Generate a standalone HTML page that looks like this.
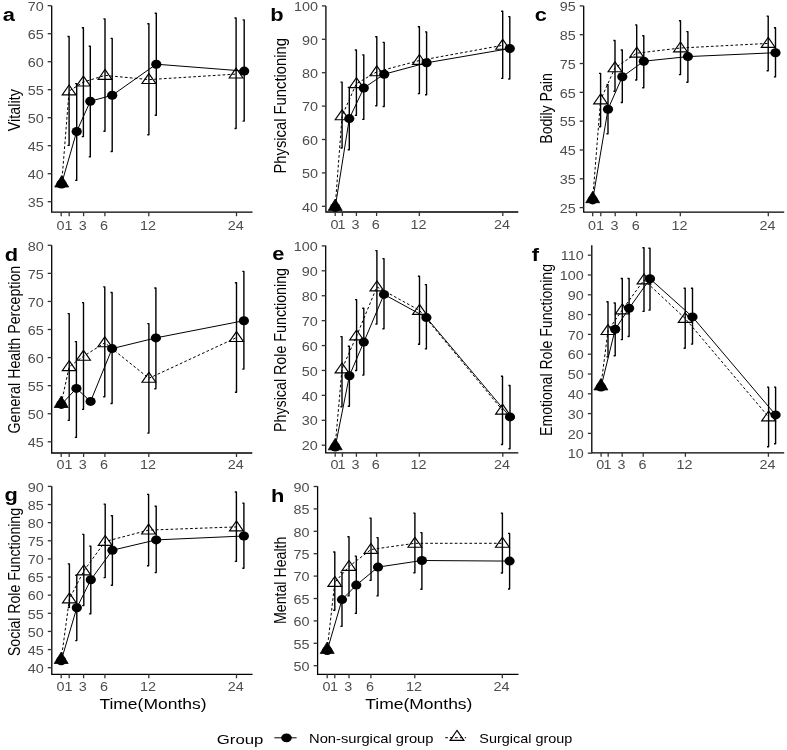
<!DOCTYPE html>
<html><head><meta charset="utf-8"><style>
html,body{margin:0;padding:0;background:#fff;}
svg{display:block;filter:blur(0.35px);}
text{font-family:"Liberation Sans",sans-serif;}
.ax{fill:none;stroke:#000;stroke-width:1.3;}
.tk{fill:none;stroke:#333;stroke-width:1.3;}
.tl{font-size:12px;fill:#4d4d4d}
.tag{font-size:19px;font-weight:bold;fill:#000;}
.ti{font-size:14.5px;fill:#000;}
.xt{font-size:14.7px;fill:#000;}
.lt{font-size:13px;fill:#000;}
.lx{font-size:12.8px;fill:#000;}
.eb{fill:none;stroke:#000;stroke-width:1.4;stroke-linejoin:round;}
.sl{fill:none;stroke:#000;stroke-width:1.0;}
.ds{fill:none;stroke:#000;stroke-width:1.0;stroke-dasharray:2.7 2.2;}
.trf{fill:#000;stroke:#000;stroke-width:0.8;stroke-linejoin:miter;}
.tri{fill:none;stroke:#000;stroke-width:1.15;stroke-linejoin:miter;}
ellipse{fill:#000;}
</style></head><body>
<svg width="787" height="750" viewBox="0 0 787 750">
<path d="M51.7 5.7V212.2H252.5" class="ax"/>
<path d="M47.7 201.7H51.7" class="tk"/>
<text class="tl" text-anchor="end" transform="translate(43.7,206.9) scale(1.2,1)">35</text>
<path d="M47.7 173.7H51.7" class="tk"/>
<text class="tl" text-anchor="end" transform="translate(43.7,178.9) scale(1.2,1)">40</text>
<path d="M47.7 145.7H51.7" class="tk"/>
<text class="tl" text-anchor="end" transform="translate(43.7,150.9) scale(1.2,1)">45</text>
<path d="M47.7 117.7H51.7" class="tk"/>
<text class="tl" text-anchor="end" transform="translate(43.7,122.9) scale(1.2,1)">50</text>
<path d="M47.7 89.7H51.7" class="tk"/>
<text class="tl" text-anchor="end" transform="translate(43.7,94.9) scale(1.2,1)">55</text>
<path d="M47.7 61.7H51.7" class="tk"/>
<text class="tl" text-anchor="end" transform="translate(43.7,66.9) scale(1.2,1)">60</text>
<path d="M47.7 33.7H51.7" class="tk"/>
<text class="tl" text-anchor="end" transform="translate(43.7,38.9) scale(1.2,1)">65</text>
<path d="M47.7 5.7H51.7" class="tk"/>
<text class="tl" text-anchor="end" transform="translate(43.7,10.9) scale(1.2,1)">70</text>
<path d="M61.2 212.2V216.2" class="tk"/>
<text class="tl" text-anchor="middle" transform="translate(60.4,229.6) scale(1.2,1)">0</text>
<path d="M69.2 212.2V216.2" class="tk"/>
<text class="tl" text-anchor="middle" transform="translate(68.4,229.6) scale(1.2,1)">1</text>
<path d="M83.6 212.2V216.2" class="tk"/>
<text class="tl" text-anchor="middle" transform="translate(82.8,229.6) scale(1.2,1)">3</text>
<path d="M104.9 212.2V216.2" class="tk"/>
<text class="tl" text-anchor="middle" transform="translate(104.1,229.6) scale(1.2,1)">6</text>
<path d="M148.8 212.2V216.2" class="tk"/>
<text class="tl" text-anchor="middle" transform="translate(148,229.6) scale(1.2,1)">12</text>
<path d="M236.5 212.2V216.2" class="tk"/>
<text class="tl" text-anchor="middle" transform="translate(235.7,229.6) scale(1.2,1)">24</text>
<text class="tag" text-anchor="middle" transform="translate(8.8,21) scale(1.15,1)">a</text>
<text class="ti" text-anchor="middle" textLength="42" lengthAdjust="spacingAndGlyphs" transform="translate(19.7,110.2) scale(1.18,1) rotate(-90)">Vitality</text>
<path d="M67.5 36.5H69.1V145.4H67.5" class="eb"/>
<path d="M81.8 27.7H83.4V136.6H81.8" class="eb"/>
<path d="M103.4 18.9H105V131.3H103.4" class="eb"/>
<path d="M147.3 23.8H148.9V134.7H147.3" class="eb"/>
<path d="M234.5 18H236.1V128.5H234.5" class="eb"/>
<path d="M75.1 83.6H76.7V180.4H75.1" class="eb"/>
<path d="M88.7 46.3H90.3V156.9H88.7" class="eb"/>
<path d="M110.6 38.4H112.2V151.5H110.6" class="eb"/>
<path d="M154.7 13.2H156.3V115.3H154.7" class="eb"/>
<path d="M242.6 19.9H244.2V121.1H242.6" class="eb"/>
<path d="M61.7 183.2 L69.1 91 L83.4 82.1 L105 75.4 L148.9 79.6 L236.1 74.1" class="ds"/>
<path d="M61.5 184 L76.7 131.5 L90.3 101.2 L112.2 95.3 L156.3 64.2 L244.2 71.1" class="sl"/>
<ellipse cx="61.5" cy="184" rx="5.1" ry="4.5"/>
<ellipse cx="76.7" cy="131.5" rx="5.1" ry="4.5"/>
<ellipse cx="90.3" cy="101.2" rx="5.1" ry="4.5"/>
<ellipse cx="112.2" cy="95.3" rx="5.1" ry="4.5"/>
<ellipse cx="156.3" cy="64.2" rx="5.1" ry="4.5"/>
<ellipse cx="244.2" cy="71.1" rx="5.1" ry="4.5"/>
<path d="M61.7 175.6L68.7 187H54.7Z" class="trf"/>
<path d="M69.1 85L76 94.9H62.2Z" class="tri"/>
<path d="M83.4 76.1L90.3 86H76.5Z" class="tri"/>
<path d="M105 69.4L111.9 79.3H98.1Z" class="tri"/>
<path d="M148.9 73.6L155.8 83.5H142Z" class="tri"/>
<path d="M236.1 68.1L243 78H229.2Z" class="tri"/>
<path d="M325.9 5.9V212H518.3" class="ax"/>
<path d="M321.9 206.3H325.9" class="tk"/>
<text class="tl" text-anchor="end" transform="translate(317.9,211.5) scale(1.2,1)">40</text>
<path d="M321.9 172.9H325.9" class="tk"/>
<text class="tl" text-anchor="end" transform="translate(317.9,178.1) scale(1.2,1)">50</text>
<path d="M321.9 139.5H325.9" class="tk"/>
<text class="tl" text-anchor="end" transform="translate(317.9,144.7) scale(1.2,1)">60</text>
<path d="M321.9 106.1H325.9" class="tk"/>
<text class="tl" text-anchor="end" transform="translate(317.9,111.3) scale(1.2,1)">70</text>
<path d="M321.9 72.7H325.9" class="tk"/>
<text class="tl" text-anchor="end" transform="translate(317.9,77.9) scale(1.2,1)">80</text>
<path d="M321.9 39.3H325.9" class="tk"/>
<text class="tl" text-anchor="end" transform="translate(317.9,44.5) scale(1.2,1)">90</text>
<path d="M321.9 5.9H325.9" class="tk"/>
<text class="tl" text-anchor="end" transform="translate(317.9,11.1) scale(1.2,1)">100</text>
<path d="M335.2 212V216" class="tk"/>
<text class="tl" text-anchor="middle" transform="translate(334.4,229.4) scale(1.2,1)">0</text>
<path d="M342.4 212V216" class="tk"/>
<text class="tl" text-anchor="middle" transform="translate(341.6,229.4) scale(1.2,1)">1</text>
<path d="M356.4 212V216" class="tk"/>
<text class="tl" text-anchor="middle" transform="translate(355.6,229.4) scale(1.2,1)">3</text>
<path d="M376.6 212V216" class="tk"/>
<text class="tl" text-anchor="middle" transform="translate(375.8,229.4) scale(1.2,1)">6</text>
<path d="M419.3 212V216" class="tk"/>
<text class="tl" text-anchor="middle" transform="translate(418.5,229.4) scale(1.2,1)">12</text>
<path d="M502.8 212V216" class="tk"/>
<text class="tl" text-anchor="middle" transform="translate(502,229.4) scale(1.2,1)">24</text>
<text class="tag" text-anchor="middle" transform="translate(276.8,20.5) scale(1.15,1)">b</text>
<text class="ti" text-anchor="middle" textLength="135.6" lengthAdjust="spacingAndGlyphs" transform="translate(285.6,105.8) scale(1.18,1) rotate(-90)">Physical Functioning</text>
<path d="M340.5 82.1H342.1V148H340.5" class="eb"/>
<path d="M354.8 50H356.4V115.4H354.8" class="eb"/>
<path d="M375.2 36.7H376.8V105.7H375.2" class="eb"/>
<path d="M417.8 26.8H419.4V93.6H417.8" class="eb"/>
<path d="M501.1 11.3H502.7V78.4H501.1" class="eb"/>
<path d="M347.7 87.4H349.3V149.8H347.7" class="eb"/>
<path d="M362.2 54.9H363.8V119.4H362.2" class="eb"/>
<path d="M382.6 42.4H384.2V106.5H382.6" class="eb"/>
<path d="M425 31.9H426.6V94.7H425" class="eb"/>
<path d="M508.2 16.6H509.8V79H508.2" class="eb"/>
<path d="M335.2 206.6 L342.1 115.8 L356.4 83.7 L376.8 71.8 L419.4 60.5 L502.7 45.3" class="ds"/>
<path d="M335.2 207.4 L349.3 118.6 L363.8 88 L384.2 74.2 L426.6 62.8 L509.8 48.5" class="sl"/>
<ellipse cx="335.2" cy="207.4" rx="5.1" ry="4.5"/>
<ellipse cx="349.3" cy="118.6" rx="5.1" ry="4.5"/>
<ellipse cx="363.8" cy="88" rx="5.1" ry="4.5"/>
<ellipse cx="384.2" cy="74.2" rx="5.1" ry="4.5"/>
<ellipse cx="426.6" cy="62.8" rx="5.1" ry="4.5"/>
<ellipse cx="509.8" cy="48.5" rx="5.1" ry="4.5"/>
<path d="M335.2 199L342.2 210.4H328.2Z" class="trf"/>
<path d="M342.1 109.8L349 119.7H335.2Z" class="tri"/>
<path d="M356.4 77.7L363.3 87.6H349.5Z" class="tri"/>
<path d="M376.8 65.8L383.7 75.7H369.9Z" class="tri"/>
<path d="M419.4 54.5L426.3 64.4H412.5Z" class="tri"/>
<path d="M502.7 39.3L509.6 49.2H495.8Z" class="tri"/>
<path d="M583.7 5.9V212.2H784.2" class="ax"/>
<path d="M579.7 207.6H583.7" class="tk"/>
<text class="tl" text-anchor="end" transform="translate(575.7,212.8) scale(1.2,1)">25</text>
<path d="M579.7 178.79H583.7" class="tk"/>
<text class="tl" text-anchor="end" transform="translate(575.7,183.99) scale(1.2,1)">35</text>
<path d="M579.7 149.97H583.7" class="tk"/>
<text class="tl" text-anchor="end" transform="translate(575.7,155.17) scale(1.2,1)">45</text>
<path d="M579.7 121.16H583.7" class="tk"/>
<text class="tl" text-anchor="end" transform="translate(575.7,126.36) scale(1.2,1)">55</text>
<path d="M579.7 92.34H583.7" class="tk"/>
<text class="tl" text-anchor="end" transform="translate(575.7,97.54) scale(1.2,1)">65</text>
<path d="M579.7 63.53H583.7" class="tk"/>
<text class="tl" text-anchor="end" transform="translate(575.7,68.73) scale(1.2,1)">75</text>
<path d="M579.7 34.71H583.7" class="tk"/>
<text class="tl" text-anchor="end" transform="translate(575.7,39.91) scale(1.2,1)">85</text>
<path d="M579.7 5.9H583.7" class="tk"/>
<text class="tl" text-anchor="end" transform="translate(575.7,11.1) scale(1.2,1)">95</text>
<path d="M592.7 212.2V216.2" class="tk"/>
<text class="tl" text-anchor="middle" transform="translate(591.9,229.6) scale(1.2,1)">0</text>
<path d="M600.8 212.2V216.2" class="tk"/>
<text class="tl" text-anchor="middle" transform="translate(600,229.6) scale(1.2,1)">1</text>
<path d="M615.2 212.2V216.2" class="tk"/>
<text class="tl" text-anchor="middle" transform="translate(614.4,229.6) scale(1.2,1)">3</text>
<path d="M636.5 212.2V216.2" class="tk"/>
<text class="tl" text-anchor="middle" transform="translate(635.7,229.6) scale(1.2,1)">6</text>
<path d="M680.3 212.2V216.2" class="tk"/>
<text class="tl" text-anchor="middle" transform="translate(679.5,229.6) scale(1.2,1)">12</text>
<path d="M768.3 212.2V216.2" class="tk"/>
<text class="tl" text-anchor="middle" transform="translate(767.5,229.6) scale(1.2,1)">24</text>
<text class="tag" text-anchor="middle" transform="translate(540.9,21) scale(1.15,1)">c</text>
<text class="ti" text-anchor="middle" textLength="70.4" lengthAdjust="spacingAndGlyphs" transform="translate(552,108.5) scale(1.18,1) rotate(-90)">Bodily Pain</text>
<path d="M599 73.4H600.6V126.8H599" class="eb"/>
<path d="M613.4 40.5H615V91.3H613.4" class="eb"/>
<path d="M635.1 24.9H636.7V80H635.1" class="eb"/>
<path d="M678.9 20.8H680.5V74.6H678.9" class="eb"/>
<path d="M766.6 16.1H768.2V70.7H766.6" class="eb"/>
<path d="M606.4 84.7H608V133.7H606.4" class="eb"/>
<path d="M620.7 50H622.3V102.5H620.7" class="eb"/>
<path d="M642.2 35.8H643.8V87.8H642.2" class="eb"/>
<path d="M686.3 31.6H687.9V82.3H686.3" class="eb"/>
<path d="M773.9 27.7H775.5V76.9H773.9" class="eb"/>
<path d="M592.7 198.9 L600.6 99.9 L615 67.8 L636.7 53.2 L680.5 48 L768.2 43.4" class="ds"/>
<path d="M592.7 199.9 L608 109.2 L622.3 76.8 L643.8 61.2 L687.9 56.6 L775.5 52.7" class="sl"/>
<ellipse cx="592.7" cy="199.9" rx="5.1" ry="4.5"/>
<ellipse cx="608" cy="109.2" rx="5.1" ry="4.5"/>
<ellipse cx="622.3" cy="76.8" rx="5.1" ry="4.5"/>
<ellipse cx="643.8" cy="61.2" rx="5.1" ry="4.5"/>
<ellipse cx="687.9" cy="56.6" rx="5.1" ry="4.5"/>
<ellipse cx="775.5" cy="52.7" rx="5.1" ry="4.5"/>
<path d="M592.7 191.3L599.7 202.7H585.7Z" class="trf"/>
<path d="M600.6 93.9L607.5 103.8H593.7Z" class="tri"/>
<path d="M615 61.8L621.9 71.7H608.1Z" class="tri"/>
<path d="M636.7 47.2L643.6 57.1H629.8Z" class="tri"/>
<path d="M680.5 42L687.4 51.9H673.6Z" class="tri"/>
<path d="M768.2 37.4L775.1 47.3H761.3Z" class="tri"/>
<path d="M51.7 245.2V453H252.3" class="ax"/>
<path d="M47.7 441.8H51.7" class="tk"/>
<text class="tl" text-anchor="end" transform="translate(43.7,447) scale(1.2,1)">45</text>
<path d="M47.7 413.73H51.7" class="tk"/>
<text class="tl" text-anchor="end" transform="translate(43.7,418.93) scale(1.2,1)">50</text>
<path d="M47.7 385.66H51.7" class="tk"/>
<text class="tl" text-anchor="end" transform="translate(43.7,390.86) scale(1.2,1)">55</text>
<path d="M47.7 357.59H51.7" class="tk"/>
<text class="tl" text-anchor="end" transform="translate(43.7,362.79) scale(1.2,1)">60</text>
<path d="M47.7 329.51H51.7" class="tk"/>
<text class="tl" text-anchor="end" transform="translate(43.7,334.71) scale(1.2,1)">65</text>
<path d="M47.7 301.44H51.7" class="tk"/>
<text class="tl" text-anchor="end" transform="translate(43.7,306.64) scale(1.2,1)">70</text>
<path d="M47.7 273.37H51.7" class="tk"/>
<text class="tl" text-anchor="end" transform="translate(43.7,278.57) scale(1.2,1)">75</text>
<path d="M47.7 245.3H51.7" class="tk"/>
<text class="tl" text-anchor="end" transform="translate(43.7,250.5) scale(1.2,1)">80</text>
<path d="M61.2 453V457" class="tk"/>
<text class="tl" text-anchor="middle" transform="translate(60.4,468.9) scale(1.2,1)">0</text>
<path d="M69.2 453V457" class="tk"/>
<text class="tl" text-anchor="middle" transform="translate(68.4,468.9) scale(1.2,1)">1</text>
<path d="M83.6 453V457" class="tk"/>
<text class="tl" text-anchor="middle" transform="translate(82.8,468.9) scale(1.2,1)">3</text>
<path d="M104.9 453V457" class="tk"/>
<text class="tl" text-anchor="middle" transform="translate(104.1,468.9) scale(1.2,1)">6</text>
<path d="M148.8 453V457" class="tk"/>
<text class="tl" text-anchor="middle" transform="translate(148,468.9) scale(1.2,1)">12</text>
<path d="M236.5 453V457" class="tk"/>
<text class="tl" text-anchor="middle" transform="translate(235.7,468.9) scale(1.2,1)">24</text>
<text class="tag" text-anchor="middle" transform="translate(11.4,260.5) scale(1.15,1)">d</text>
<text class="ti" text-anchor="middle" textLength="167.7" lengthAdjust="spacingAndGlyphs" transform="translate(20.2,349.6) scale(1.18,1) rotate(-90)">General Health Perception</text>
<path d="M67.6 313.6H69.2V420.4H67.6" class="eb"/>
<path d="M81.9 302.6H83.5V409.4H81.9" class="eb"/>
<path d="M103.2 286.9H104.8V396.7H103.2" class="eb"/>
<path d="M147.3 323.6H148.9V433.1H147.3" class="eb"/>
<path d="M234.9 282.8H236.5V392.2H234.9" class="eb"/>
<path d="M74.8 341.6H76.4V437.4H74.8" class="eb"/>
<path d="M110.5 292.5H112.1V403.5H110.5" class="eb"/>
<path d="M154.3 288H155.9V388.8H154.3" class="eb"/>
<path d="M242.3 271.4H243.9V369.1H242.3" class="eb"/>
<path d="M61.2 403.7 L69.2 366.7 L83.5 356.3 L104.8 342.8 L148.9 378.3 L236.5 337.6" class="ds"/>
<path d="M61.4 404.4 L76.4 388.4 L90.6 401.4 L112.1 348.6 L155.9 337.9 L243.9 320.7" class="sl"/>
<ellipse cx="61.4" cy="404.4" rx="5.1" ry="4.5"/>
<ellipse cx="76.4" cy="388.4" rx="5.1" ry="4.5"/>
<ellipse cx="90.6" cy="401.4" rx="5.1" ry="4.5"/>
<ellipse cx="112.1" cy="348.6" rx="5.1" ry="4.5"/>
<ellipse cx="155.9" cy="337.9" rx="5.1" ry="4.5"/>
<ellipse cx="243.9" cy="320.7" rx="5.1" ry="4.5"/>
<path d="M61.2 396.1L68.2 407.5H54.2Z" class="trf"/>
<path d="M69.2 360.7L76.1 370.6H62.3Z" class="tri"/>
<path d="M83.5 350.3L90.4 360.2H76.6Z" class="tri"/>
<path d="M104.8 336.8L111.7 346.7H97.9Z" class="tri"/>
<path d="M148.9 372.3L155.8 382.2H142Z" class="tri"/>
<path d="M236.5 331.6L243.4 341.5H229.6Z" class="tri"/>
<path d="M325.7 245.5V452.8H518.3" class="ax"/>
<path d="M321.7 445.2H325.7" class="tk"/>
<text class="tl" text-anchor="end" transform="translate(317.7,450.4) scale(1.2,1)">20</text>
<path d="M321.7 420.29H325.7" class="tk"/>
<text class="tl" text-anchor="end" transform="translate(317.7,425.49) scale(1.2,1)">30</text>
<path d="M321.7 395.38H325.7" class="tk"/>
<text class="tl" text-anchor="end" transform="translate(317.7,400.57) scale(1.2,1)">40</text>
<path d="M321.7 370.46H325.7" class="tk"/>
<text class="tl" text-anchor="end" transform="translate(317.7,375.66) scale(1.2,1)">50</text>
<path d="M321.7 345.55H325.7" class="tk"/>
<text class="tl" text-anchor="end" transform="translate(317.7,350.75) scale(1.2,1)">60</text>
<path d="M321.7 320.64H325.7" class="tk"/>
<text class="tl" text-anchor="end" transform="translate(317.7,325.84) scale(1.2,1)">70</text>
<path d="M321.7 295.73H325.7" class="tk"/>
<text class="tl" text-anchor="end" transform="translate(317.7,300.93) scale(1.2,1)">80</text>
<path d="M321.7 270.81H325.7" class="tk"/>
<text class="tl" text-anchor="end" transform="translate(317.7,276.01) scale(1.2,1)">90</text>
<path d="M321.7 245.9H325.7" class="tk"/>
<text class="tl" text-anchor="end" transform="translate(317.7,251.1) scale(1.2,1)">100</text>
<path d="M335.2 452.8V456.8" class="tk"/>
<text class="tl" text-anchor="middle" transform="translate(334.4,468.7) scale(1.2,1)">0</text>
<path d="M342.4 452.8V456.8" class="tk"/>
<text class="tl" text-anchor="middle" transform="translate(341.6,468.7) scale(1.2,1)">1</text>
<path d="M356.4 452.8V456.8" class="tk"/>
<text class="tl" text-anchor="middle" transform="translate(355.6,468.7) scale(1.2,1)">3</text>
<path d="M376.6 452.8V456.8" class="tk"/>
<text class="tl" text-anchor="middle" transform="translate(375.8,468.7) scale(1.2,1)">6</text>
<path d="M419.3 452.8V456.8" class="tk"/>
<text class="tl" text-anchor="middle" transform="translate(418.5,468.7) scale(1.2,1)">12</text>
<path d="M502.8 452.8V456.8" class="tk"/>
<text class="tl" text-anchor="middle" transform="translate(502,468.7) scale(1.2,1)">24</text>
<text class="tag" text-anchor="middle" transform="translate(278.2,260) scale(1.15,1)">e</text>
<text class="ti" text-anchor="middle" textLength="164.1" lengthAdjust="spacingAndGlyphs" transform="translate(285.7,350) scale(1.18,1) rotate(-90)">Physical Role Functioning</text>
<path d="M340.4 336.6H342V406.8H340.4" class="eb"/>
<path d="M355 299.6H356.6V370.5H355" class="eb"/>
<path d="M375.3 250.6H376.9V324.1H375.3" class="eb"/>
<path d="M417.9 276.3H419.5V344.2H417.9" class="eb"/>
<path d="M500.9 376.3H502.5V444.5H500.9" class="eb"/>
<path d="M347.8 346.3H349.4V406.3H347.8" class="eb"/>
<path d="M362.2 308.3H363.8V375.1H362.2" class="eb"/>
<path d="M382.4 258.6H384V328.7H382.4" class="eb"/>
<path d="M424.8 284.6H426.4V348.9H424.8" class="eb"/>
<path d="M508.4 385.5H510V448.7H508.4" class="eb"/>
<path d="M335.2 446 L342 368.9 L356.6 336 L376.9 286.9 L419.5 310.4 L502.5 410.2" class="ds"/>
<path d="M335.2 447 L349.4 375.7 L363.8 342.1 L384 294.4 L426.4 317.6 L510 416.9" class="sl"/>
<ellipse cx="335.2" cy="447" rx="5.1" ry="4.5"/>
<ellipse cx="349.4" cy="375.7" rx="5.1" ry="4.5"/>
<ellipse cx="363.8" cy="342.1" rx="5.1" ry="4.5"/>
<ellipse cx="384" cy="294.4" rx="5.1" ry="4.5"/>
<ellipse cx="426.4" cy="317.6" rx="5.1" ry="4.5"/>
<ellipse cx="510" cy="416.9" rx="5.1" ry="4.5"/>
<path d="M335.2 438.4L342.2 449.8H328.2Z" class="trf"/>
<path d="M342 362.9L348.9 372.8H335.1Z" class="tri"/>
<path d="M356.6 330L363.5 339.9H349.7Z" class="tri"/>
<path d="M376.9 280.9L383.8 290.8H370Z" class="tri"/>
<path d="M419.5 304.4L426.4 314.3H412.6Z" class="tri"/>
<path d="M502.5 404.2L509.4 414.1H495.6Z" class="tri"/>
<path d="M591.8 245.3V452.8H784.2" class="ax"/>
<path d="M587.8 453.2H591.8" class="tk"/>
<text class="tl" text-anchor="end" transform="translate(583.8,458.4) scale(1.2,1)">10</text>
<path d="M587.8 433.4H591.8" class="tk"/>
<text class="tl" text-anchor="end" transform="translate(583.8,438.6) scale(1.2,1)">20</text>
<path d="M587.8 413.6H591.8" class="tk"/>
<text class="tl" text-anchor="end" transform="translate(583.8,418.8) scale(1.2,1)">30</text>
<path d="M587.8 393.8H591.8" class="tk"/>
<text class="tl" text-anchor="end" transform="translate(583.8,399) scale(1.2,1)">40</text>
<path d="M587.8 374H591.8" class="tk"/>
<text class="tl" text-anchor="end" transform="translate(583.8,379.2) scale(1.2,1)">50</text>
<path d="M587.8 354.2H591.8" class="tk"/>
<text class="tl" text-anchor="end" transform="translate(583.8,359.4) scale(1.2,1)">60</text>
<path d="M587.8 334.4H591.8" class="tk"/>
<text class="tl" text-anchor="end" transform="translate(583.8,339.6) scale(1.2,1)">70</text>
<path d="M587.8 314.6H591.8" class="tk"/>
<text class="tl" text-anchor="end" transform="translate(583.8,319.8) scale(1.2,1)">80</text>
<path d="M587.8 294.8H591.8" class="tk"/>
<text class="tl" text-anchor="end" transform="translate(583.8,300) scale(1.2,1)">90</text>
<path d="M587.8 275H591.8" class="tk"/>
<text class="tl" text-anchor="end" transform="translate(583.8,280.2) scale(1.2,1)">100</text>
<path d="M587.8 255.2H591.8" class="tk"/>
<text class="tl" text-anchor="end" transform="translate(583.8,260.4) scale(1.2,1)">110</text>
<path d="M601.1 452.8V456.8" class="tk"/>
<text class="tl" text-anchor="middle" transform="translate(600.3,468.7) scale(1.2,1)">0</text>
<path d="M608.2 452.8V456.8" class="tk"/>
<text class="tl" text-anchor="middle" transform="translate(607.4,468.7) scale(1.2,1)">1</text>
<path d="M622.2 452.8V456.8" class="tk"/>
<text class="tl" text-anchor="middle" transform="translate(621.4,468.7) scale(1.2,1)">3</text>
<path d="M643.2 452.8V456.8" class="tk"/>
<text class="tl" text-anchor="middle" transform="translate(642.4,468.7) scale(1.2,1)">6</text>
<path d="M685.4 452.8V456.8" class="tk"/>
<text class="tl" text-anchor="middle" transform="translate(684.6,468.7) scale(1.2,1)">12</text>
<path d="M768.4 452.8V456.8" class="tk"/>
<text class="tl" text-anchor="middle" transform="translate(767.6,468.7) scale(1.2,1)">24</text>
<text class="tag" text-anchor="middle" transform="translate(535.4,261) scale(1.15,1)">f</text>
<text class="ti" text-anchor="middle" textLength="171.9" lengthAdjust="spacingAndGlyphs" transform="translate(551.7,350) scale(1.18,1) rotate(-90)">Emotional Role Functioning</text>
<path d="M606.4 301.8H608V356.9H606.4" class="eb"/>
<path d="M620.7 278.5H622.3V339.6H620.7" class="eb"/>
<path d="M642.4 247.8H644V311.4H642.4" class="eb"/>
<path d="M683.6 288.3H685.2V348.2H683.6" class="eb"/>
<path d="M767 387.1H768.6V446.7H767" class="eb"/>
<path d="M613.6 303H615.2V355.7H613.6" class="eb"/>
<path d="M627.5 278.5H629.1V336.5H627.5" class="eb"/>
<path d="M648.4 248.3H650V310.1H648.4" class="eb"/>
<path d="M690.9 288.3H692.5V344.1H690.9" class="eb"/>
<path d="M774 387.1H775.6V443.7H774" class="eb"/>
<path d="M600.9 386.1 L608 330.6 L622.3 309.9 L644 279.9 L685.2 318.5 L768.6 416.9" class="ds"/>
<path d="M601 387 L615.2 329.2 L629.1 308.3 L650 278.8 L692.5 316.9 L775.6 414.9" class="sl"/>
<ellipse cx="601" cy="387" rx="5.1" ry="4.5"/>
<ellipse cx="615.2" cy="329.2" rx="5.1" ry="4.5"/>
<ellipse cx="629.1" cy="308.3" rx="5.1" ry="4.5"/>
<ellipse cx="650" cy="278.8" rx="5.1" ry="4.5"/>
<ellipse cx="692.5" cy="316.9" rx="5.1" ry="4.5"/>
<ellipse cx="775.6" cy="414.9" rx="5.1" ry="4.5"/>
<path d="M600.9 378.5L607.9 389.9H593.9Z" class="trf"/>
<path d="M608 324.6L614.9 334.5H601.1Z" class="tri"/>
<path d="M622.3 303.9L629.2 313.8H615.4Z" class="tri"/>
<path d="M644 273.9L650.9 283.8H637.1Z" class="tri"/>
<path d="M685.2 312.5L692.1 322.4H678.3Z" class="tri"/>
<path d="M768.6 410.9L775.5 420.8H761.7Z" class="tri"/>
<path d="M51.8 486.2V674.3H252.5" class="ax"/>
<path d="M47.8 667.7H51.8" class="tk"/>
<text class="tl" text-anchor="end" transform="translate(43.8,672.9) scale(1.2,1)">40</text>
<path d="M47.8 649.57H51.8" class="tk"/>
<text class="tl" text-anchor="end" transform="translate(43.8,654.77) scale(1.2,1)">45</text>
<path d="M47.8 631.44H51.8" class="tk"/>
<text class="tl" text-anchor="end" transform="translate(43.8,636.64) scale(1.2,1)">50</text>
<path d="M47.8 613.31H51.8" class="tk"/>
<text class="tl" text-anchor="end" transform="translate(43.8,618.51) scale(1.2,1)">55</text>
<path d="M47.8 595.18H51.8" class="tk"/>
<text class="tl" text-anchor="end" transform="translate(43.8,600.38) scale(1.2,1)">60</text>
<path d="M47.8 577.05H51.8" class="tk"/>
<text class="tl" text-anchor="end" transform="translate(43.8,582.25) scale(1.2,1)">65</text>
<path d="M47.8 558.92H51.8" class="tk"/>
<text class="tl" text-anchor="end" transform="translate(43.8,564.12) scale(1.2,1)">70</text>
<path d="M47.8 540.79H51.8" class="tk"/>
<text class="tl" text-anchor="end" transform="translate(43.8,545.99) scale(1.2,1)">75</text>
<path d="M47.8 522.66H51.8" class="tk"/>
<text class="tl" text-anchor="end" transform="translate(43.8,527.86) scale(1.2,1)">80</text>
<path d="M47.8 504.53H51.8" class="tk"/>
<text class="tl" text-anchor="end" transform="translate(43.8,509.73) scale(1.2,1)">85</text>
<path d="M47.8 486.4H51.8" class="tk"/>
<text class="tl" text-anchor="end" transform="translate(43.8,491.6) scale(1.2,1)">90</text>
<path d="M61.2 674.3V678.3" class="tk"/>
<text class="tl" text-anchor="middle" transform="translate(60.4,691.1) scale(1.2,1)">0</text>
<path d="M69.2 674.3V678.3" class="tk"/>
<text class="tl" text-anchor="middle" transform="translate(68.4,691.1) scale(1.2,1)">1</text>
<path d="M83.6 674.3V678.3" class="tk"/>
<text class="tl" text-anchor="middle" transform="translate(82.8,691.1) scale(1.2,1)">3</text>
<path d="M104.9 674.3V678.3" class="tk"/>
<text class="tl" text-anchor="middle" transform="translate(104.1,691.1) scale(1.2,1)">6</text>
<path d="M148.8 674.3V678.3" class="tk"/>
<text class="tl" text-anchor="middle" transform="translate(148,691.1) scale(1.2,1)">12</text>
<path d="M236.5 674.3V678.3" class="tk"/>
<text class="tl" text-anchor="middle" transform="translate(235.7,691.1) scale(1.2,1)">24</text>
<text class="tag" text-anchor="middle" transform="translate(11.2,501.4) scale(1.15,1)">g</text>
<text class="ti" text-anchor="middle" textLength="148.1" lengthAdjust="spacingAndGlyphs" transform="translate(19.9,582) scale(1.18,1) rotate(-90)">Social Role Functioning</text>
<path d="M67.8 563.9H69.4V607.4H67.8" class="eb"/>
<path d="M82.2 534.4H83.8V605.6H82.2" class="eb"/>
<path d="M103.6 504.1H105.2V577.6H103.6" class="eb"/>
<path d="M147 494.4H148.6V565.7H147" class="eb"/>
<path d="M234.8 492H236.4V561.4H234.8" class="eb"/>
<path d="M75.2 575.3H76.8V640.6H75.2" class="eb"/>
<path d="M89.2 546.1H90.8V613.7H89.2" class="eb"/>
<path d="M110.8 515.8H112.4V585.3H110.8" class="eb"/>
<path d="M154.6 506.2H156.2V572.6H154.6" class="eb"/>
<path d="M242.3 503.1H243.9V568.3H242.3" class="eb"/>
<path d="M61.2 659.7 L69.4 598.9 L83.8 570.9 L105.2 541.5 L148.6 530.1 L236.4 526.9" class="ds"/>
<path d="M61.2 660.7 L76.8 607.8 L90.8 579.8 L112.4 550.2 L156.2 539.9 L243.9 536" class="sl"/>
<ellipse cx="61.2" cy="660.7" rx="5.1" ry="4.5"/>
<ellipse cx="76.8" cy="607.8" rx="5.1" ry="4.5"/>
<ellipse cx="90.8" cy="579.8" rx="5.1" ry="4.5"/>
<ellipse cx="112.4" cy="550.2" rx="5.1" ry="4.5"/>
<ellipse cx="156.2" cy="539.9" rx="5.1" ry="4.5"/>
<ellipse cx="243.9" cy="536" rx="5.1" ry="4.5"/>
<path d="M61.2 652.1L68.2 663.5H54.2Z" class="trf"/>
<path d="M69.4 592.9L76.3 602.8H62.5Z" class="tri"/>
<path d="M83.8 564.9L90.7 574.8H76.9Z" class="tri"/>
<path d="M105.2 535.5L112.1 545.4H98.3Z" class="tri"/>
<path d="M148.6 524.1L155.5 534H141.7Z" class="tri"/>
<path d="M236.4 520.9L243.3 530.8H229.5Z" class="tri"/>
<text class="xt" text-anchor="middle" transform="translate(152.95,709) scale(1.19,1)">Time(Months)</text>
<path d="M317.6 486.3V674.3H518.5" class="ax"/>
<path d="M313.6 665.7H317.6" class="tk"/>
<text class="tl" text-anchor="end" transform="translate(309.6,670.9) scale(1.2,1)">50</text>
<path d="M313.6 643.3H317.6" class="tk"/>
<text class="tl" text-anchor="end" transform="translate(309.6,648.5) scale(1.2,1)">55</text>
<path d="M313.6 620.9H317.6" class="tk"/>
<text class="tl" text-anchor="end" transform="translate(309.6,626.1) scale(1.2,1)">60</text>
<path d="M313.6 598.5H317.6" class="tk"/>
<text class="tl" text-anchor="end" transform="translate(309.6,603.7) scale(1.2,1)">65</text>
<path d="M313.6 576.1H317.6" class="tk"/>
<text class="tl" text-anchor="end" transform="translate(309.6,581.3) scale(1.2,1)">70</text>
<path d="M313.6 553.7H317.6" class="tk"/>
<text class="tl" text-anchor="end" transform="translate(309.6,558.9) scale(1.2,1)">75</text>
<path d="M313.6 531.3H317.6" class="tk"/>
<text class="tl" text-anchor="end" transform="translate(309.6,536.5) scale(1.2,1)">80</text>
<path d="M313.6 508.9H317.6" class="tk"/>
<text class="tl" text-anchor="end" transform="translate(309.6,514.1) scale(1.2,1)">85</text>
<path d="M313.6 486.5H317.6" class="tk"/>
<text class="tl" text-anchor="end" transform="translate(309.6,491.7) scale(1.2,1)">90</text>
<path d="M327.2 674.3V678.3" class="tk"/>
<text class="tl" text-anchor="middle" transform="translate(326.4,691.1) scale(1.2,1)">0</text>
<path d="M334.8 674.3V678.3" class="tk"/>
<text class="tl" text-anchor="middle" transform="translate(334,691.1) scale(1.2,1)">1</text>
<path d="M349 674.3V678.3" class="tk"/>
<text class="tl" text-anchor="middle" transform="translate(348.2,691.1) scale(1.2,1)">3</text>
<path d="M370.9 674.3V678.3" class="tk"/>
<text class="tl" text-anchor="middle" transform="translate(370.1,691.1) scale(1.2,1)">6</text>
<path d="M414.8 674.3V678.3" class="tk"/>
<text class="tl" text-anchor="middle" transform="translate(414,691.1) scale(1.2,1)">12</text>
<path d="M502.3 674.3V678.3" class="tk"/>
<text class="tl" text-anchor="middle" transform="translate(501.5,691.1) scale(1.2,1)">24</text>
<text class="tag" text-anchor="middle" transform="translate(277.7,501.9) scale(1.15,1)">h</text>
<text class="ti" text-anchor="middle" textLength="87.5" lengthAdjust="spacingAndGlyphs" transform="translate(285.6,580.3) scale(1.18,1) rotate(-90)">Mental Health</text>
<path d="M333.2 552H334.8V610.3H333.2" class="eb"/>
<path d="M347.4 536.7H349V595.9H347.4" class="eb"/>
<path d="M369.4 518.1H371V580.4H369.4" class="eb"/>
<path d="M413.3 513.1H414.9V572.7H413.3" class="eb"/>
<path d="M500.8 513.1H502.4V573H500.8" class="eb"/>
<path d="M340.4 572.3H342V626.4H340.4" class="eb"/>
<path d="M354.7 556.1H356.3V613.4H354.7" class="eb"/>
<path d="M376.4 537.6H378V595.9H376.4" class="eb"/>
<path d="M420.3 532.6H421.9V589.3H420.3" class="eb"/>
<path d="M508 533.4H509.6V589H508" class="eb"/>
<path d="M327.2 649.6 L334.8 582.4 L349 566.5 L371 549.5 L414.9 543.3 L502.4 543.3" class="ds"/>
<path d="M327.2 650.6 L342 599.6 L356.3 585.1 L378 567.1 L421.9 560.5 L509.6 561.1" class="sl"/>
<ellipse cx="327.2" cy="650.6" rx="5.1" ry="4.5"/>
<ellipse cx="342" cy="599.6" rx="5.1" ry="4.5"/>
<ellipse cx="356.3" cy="585.1" rx="5.1" ry="4.5"/>
<ellipse cx="378" cy="567.1" rx="5.1" ry="4.5"/>
<ellipse cx="421.9" cy="560.5" rx="5.1" ry="4.5"/>
<ellipse cx="509.6" cy="561.1" rx="5.1" ry="4.5"/>
<path d="M327.2 642L334.2 653.4H320.2Z" class="trf"/>
<path d="M334.8 576.4L341.7 586.3H327.9Z" class="tri"/>
<path d="M349 560.5L355.9 570.4H342.1Z" class="tri"/>
<path d="M371 543.5L377.9 553.4H364.1Z" class="tri"/>
<path d="M414.9 537.3L421.8 547.2H408Z" class="tri"/>
<path d="M502.4 537.3L509.3 547.2H495.5Z" class="tri"/>
<text class="xt" text-anchor="middle" transform="translate(418.85,709) scale(1.19,1)">Time(Months)</text>
<text class="lt" transform="translate(216.8,744.3) scale(1.29,1)">Group</text>
<path d="M274.4 737.8H296.6" class="sl"/>
<ellipse cx="286.5" cy="737.8" rx="5.3" ry="4.4"/>
<text class="lx" textLength="124.5" lengthAdjust="spacingAndGlyphs" x="309" y="743.2">Non-surgical group</text>
<path d="M445.2 737.7H466.1" class="ds"/>
<path d="M457 730.4L463.9 740.3H450.1Z" class="tri"/>
<text class="lx" textLength="93" lengthAdjust="spacingAndGlyphs" x="479.3" y="743.2">Surgical group</text>
</svg>
</body></html>
